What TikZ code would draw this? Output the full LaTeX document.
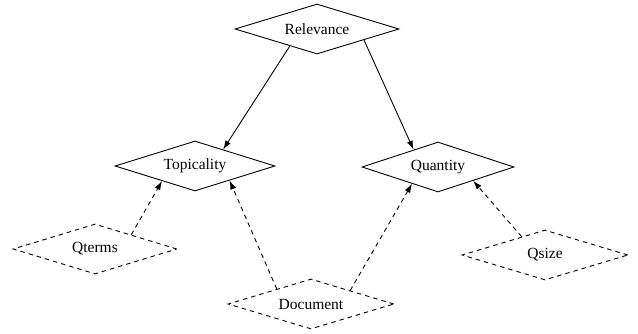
\documentclass[tikz,border=0pt]{standalone}
\usepackage{fontspec}
\setmainfont{Liberation Serif}
\usetikzlibrary{shapes.geometric,arrows.meta,calc}
\tikzset{
  dia/.style={diamond, draw, line width=0.9pt, inner sep=0pt, aspect=3,
    font=\fontsize{15.5}{18}\selectfont},
  hyp/.style={dia, dash pattern=on 4.5pt off 4pt},
  link/.style={line width=0.9pt, -{Latex[length=9pt,width=6pt]}},
  hlink/.style={link, dash pattern=on 4.5pt off 4pt},
}
\begin{document}
\begin{tikzpicture}[x=1pt,y=-1pt]
\useasboundingbox (0,0) rectangle (638,333);
\node[dia, minimum width=164pt, minimum height=50pt] (rel) at (317,29) {Relevance};
\node[dia, minimum width=160pt, minimum height=50pt] (top) at (195,166) {Topicality};
\node[dia, minimum width=152pt, minimum height=50pt] (qua) at (438,167) {Quantity};
\node[hyp, minimum width=164pt, minimum height=50pt] (qterms) at (95,249) {Qterms};
\node[hyp, minimum width=166pt, minimum height=50pt] (doc) at (311,304) {Document};
\node[hyp, minimum width=166pt, minimum height=50pt] (qsize) at (545,255) {Qsize};

\draw[link] ($(rel.west)!0.67!(rel.south)$) -- ($(top.north)!0.35!(top.east)$);
\draw[link] ($(rel.south)!0.57!(rel.east)$) -- ($(qua.west)!0.68!(qua.north)$);
\draw[hlink] ($(qterms.north)!0.44!(qterms.east)$) -- ($(top.west)!0.59!(top.south)$);
\draw[hlink] ($(doc.west)!0.59!(doc.north)$) -- ($(top.south)!0.43!(top.east)$);
\draw[hlink] ($(doc.north)!0.47!(doc.east)$) -- ($(qua.west)!0.66!(qua.south)$);
\draw[hlink] ($(qsize.west)!0.72!(qsize.north)$) -- ($(qua.south)!0.46!(qua.east)$);
\end{tikzpicture}
\end{document}
